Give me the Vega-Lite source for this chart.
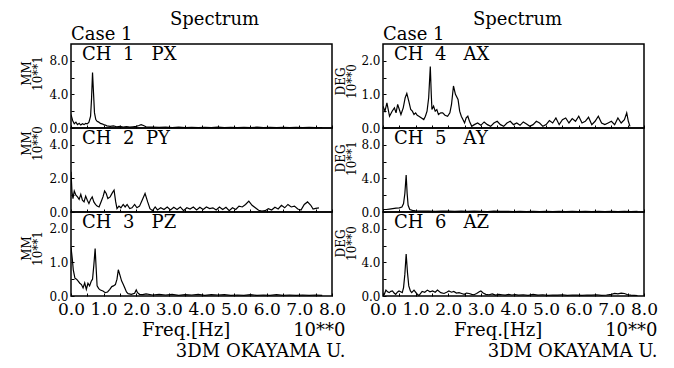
{
  "$schema": "https://vega.github.io/schema/vega-lite/v6.json",
  "background": "white",
  "padding": {"left": 20, "top": 11, "right": 5, "bottom": 2},
  "config": {
    "font": "DejaVu Serif",
    "view": {"stroke": "black", "strokeWidth": 1.5},
    "axis": {"grid": false, "domain": false, "tickColor": "black", "tickSize": -3, "labelColor": "black", "titleColor": "black", "labelFont": "DejaVu Serif", "titleFont": "DejaVu Serif", "titleFontWeight": "normal", "labelFlush": false, "labelOverlap": false, "labelBound": false},
    "title": {"font": "DejaVu Serif", "fontWeight": "normal", "color": "black"}
  },
  "datasets": {
    "ch1": [{"f":0,"v":1.6},{"f":0.05,"v":0.9},{"f":0.1,"v":0.5},{"f":0.15,"v":0.7},{"f":0.2,"v":0.4},{"f":0.25,"v":0.55},{"f":0.3,"v":0.35},{"f":0.35,"v":0.5},{"f":0.4,"v":0.4},{"f":0.45,"v":0.55},{"f":0.5,"v":0.5},{"f":0.55,"v":0.7},{"f":0.6,"v":1.4},{"f":0.63,"v":3.5},{"f":0.66,"v":6.6},{"f":0.69,"v":4.2},{"f":0.72,"v":1.8},{"f":0.76,"v":1.0},{"f":0.8,"v":0.8},{"f":0.85,"v":0.7},{"f":0.9,"v":0.55},{"f":0.95,"v":0.5},{"f":1.0,"v":0.4},{"f":1.05,"v":0.35},{"f":1.1,"v":0.25},{"f":1.2,"v":0.2},{"f":1.3,"v":0.25},{"f":1.4,"v":0.15},{"f":1.5,"v":0.2},{"f":1.6,"v":0.12},{"f":1.7,"v":0.18},{"f":1.8,"v":0.1},{"f":1.9,"v":0.15},{"f":2.0,"v":0.2},{"f":2.08,"v":0.3},{"f":2.15,"v":0.4},{"f":2.22,"v":0.3},{"f":2.3,"v":0.15},{"f":2.4,"v":0.1},{"f":2.5,"v":0.12},{"f":2.7,"v":0.08},{"f":2.9,"v":0.12},{"f":3.1,"v":0.06},{"f":3.3,"v":0.1},{"f":3.5,"v":0.05},{"f":3.7,"v":0.09},{"f":3.9,"v":0.05},{"f":4.1,"v":0.08},{"f":4.3,"v":0.05},{"f":4.5,"v":0.1},{"f":4.7,"v":0.05},{"f":4.9,"v":0.08},{"f":5.1,"v":0.05},{"f":5.3,"v":0.07},{"f":5.5,"v":0.04},{"f":5.7,"v":0.1},{"f":5.9,"v":0.05},{"f":6.1,"v":0.07},{"f":6.3,"v":0.05},{"f":6.5,"v":0.08},{"f":6.7,"v":0.05},{"f":6.9,"v":0.07},{"f":7.1,"v":0.04},{"f":7.3,"v":0.08},{"f":7.5,"v":0.05},{"f":7.7,"v":0.06}],
    "ch2": [{"f":0,"v":2.4},{"f":0.03,"v":1.2},{"f":0.06,"v":0.8},{"f":0.1,"v":1.25},{"f":0.15,"v":1.0},{"f":0.2,"v":0.9},{"f":0.25,"v":0.75},{"f":0.3,"v":1.05},{"f":0.35,"v":0.7},{"f":0.4,"v":0.6},{"f":0.45,"v":0.95},{"f":0.5,"v":0.7},{"f":0.55,"v":0.5},{"f":0.6,"v":0.75},{"f":0.65,"v":0.9},{"f":0.7,"v":0.6},{"f":0.75,"v":0.45},{"f":0.8,"v":0.35},{"f":0.86,"v":0.3},{"f":0.92,"v":0.6},{"f":0.98,"v":0.9},{"f":1.03,"v":1.25},{"f":1.08,"v":1.1},{"f":1.13,"v":0.8},{"f":1.2,"v":0.9},{"f":1.27,"v":1.15},{"f":1.32,"v":1.3},{"f":1.37,"v":0.6},{"f":1.41,"v":0.2},{"f":1.47,"v":0.35},{"f":1.53,"v":0.25},{"f":1.6,"v":0.45},{"f":1.66,"v":0.3},{"f":1.72,"v":0.45},{"f":1.8,"v":0.2},{"f":1.87,"v":0.25},{"f":1.95,"v":0.45},{"f":2.02,"v":0.25},{"f":2.1,"v":0.35},{"f":2.18,"v":0.7},{"f":2.27,"v":1.1},{"f":2.35,"v":0.6},{"f":2.42,"v":0.2},{"f":2.5,"v":0.08},{"f":2.58,"v":0.3},{"f":2.65,"v":0.12},{"f":2.75,"v":0.25},{"f":2.85,"v":0.15},{"f":2.95,"v":0.3},{"f":3.05,"v":0.12},{"f":3.15,"v":0.28},{"f":3.25,"v":0.15},{"f":3.35,"v":0.3},{"f":3.45,"v":0.08},{"f":3.55,"v":0.25},{"f":3.65,"v":0.18},{"f":3.75,"v":0.3},{"f":3.85,"v":0.12},{"f":3.95,"v":0.28},{"f":4.05,"v":0.15},{"f":4.15,"v":0.3},{"f":4.25,"v":0.2},{"f":4.35,"v":0.25},{"f":4.45,"v":0.12},{"f":4.55,"v":0.3},{"f":4.65,"v":0.15},{"f":4.75,"v":0.28},{"f":4.85,"v":0.08},{"f":4.95,"v":0.25},{"f":5.05,"v":0.15},{"f":5.15,"v":0.35},{"f":5.25,"v":0.3},{"f":5.35,"v":0.45},{"f":5.45,"v":0.65},{"f":5.55,"v":0.4},{"f":5.65,"v":0.25},{"f":5.75,"v":0.1},{"f":5.85,"v":0.05},{"f":5.95,"v":0.08},{"f":6.05,"v":0.2},{"f":6.15,"v":0.12},{"f":6.25,"v":0.28},{"f":6.35,"v":0.18},{"f":6.45,"v":0.4},{"f":6.55,"v":0.25},{"f":6.65,"v":0.45},{"f":6.75,"v":0.3},{"f":6.85,"v":0.35},{"f":6.95,"v":0.18},{"f":7.05,"v":0.12},{"f":7.15,"v":0.45},{"f":7.25,"v":0.6},{"f":7.35,"v":0.4},{"f":7.42,"v":0.18},{"f":7.5,"v":0.22},{"f":7.6,"v":0.25}],
    "ch3": [{"f":0,"v":1.45},{"f":0.04,"v":1.1},{"f":0.07,"v":0.78},{"f":0.12,"v":0.53},{"f":0.17,"v":0.5},{"f":0.22,"v":0.44},{"f":0.27,"v":0.38},{"f":0.32,"v":0.34},{"f":0.37,"v":0.24},{"f":0.42,"v":0.39},{"f":0.47,"v":0.2},{"f":0.52,"v":0.38},{"f":0.57,"v":0.3},{"f":0.62,"v":0.44},{"f":0.66,"v":0.5},{"f":0.7,"v":0.92},{"f":0.74,"v":1.41},{"f":0.77,"v":0.85},{"f":0.8,"v":0.3},{"f":0.85,"v":0.22},{"f":0.9,"v":0.18},{"f":0.98,"v":0.15},{"f":1.05,"v":0.1},{"f":1.12,"v":0.12},{"f":1.19,"v":0.2},{"f":1.25,"v":0.28},{"f":1.3,"v":0.3},{"f":1.36,"v":0.34},{"f":1.41,"v":0.5},{"f":1.45,"v":0.78},{"f":1.5,"v":0.62},{"f":1.55,"v":0.45},{"f":1.6,"v":0.35},{"f":1.65,"v":0.24},{"f":1.7,"v":0.12},{"f":1.75,"v":0.07},{"f":1.85,"v":0.05},{"f":1.95,"v":0.08},{"f":2.0,"v":0.18},{"f":2.04,"v":0.1},{"f":2.1,"v":0.05},{"f":2.2,"v":0.04},{"f":2.3,"v":0.06},{"f":2.5,"v":0.03},{"f":2.7,"v":0.05},{"f":2.9,"v":0.03},{"f":3.1,"v":0.05},{"f":3.3,"v":0.02},{"f":3.5,"v":0.04},{"f":3.7,"v":0.03},{"f":3.9,"v":0.05},{"f":4.1,"v":0.02},{"f":4.3,"v":0.04},{"f":4.5,"v":0.03},{"f":4.7,"v":0.04},{"f":4.9,"v":0.02},{"f":5.1,"v":0.03},{"f":5.3,"v":0.02},{"f":5.5,"v":0.04},{"f":5.7,"v":0.02},{"f":5.9,"v":0.03},{"f":6.1,"v":0.02},{"f":6.3,"v":0.04},{"f":6.5,"v":0.02},{"f":6.7,"v":0.03},{"f":6.9,"v":0.02},{"f":7.1,"v":0.03},{"f":7.3,"v":0.02},{"f":7.5,"v":0.03},{"f":7.7,"v":0.02}],
    "ch4": [{"f":0,"v":0.65},{"f":0.06,"v":0.5},{"f":0.12,"v":0.75},{"f":0.2,"v":0.35},{"f":0.28,"v":0.5},{"f":0.35,"v":0.6},{"f":0.4,"v":0.45},{"f":0.45,"v":0.7},{"f":0.5,"v":0.55},{"f":0.55,"v":0.4},{"f":0.62,"v":0.6},{"f":0.68,"v":0.9},{"f":0.73,"v":1.03},{"f":0.79,"v":0.8},{"f":0.85,"v":0.55},{"f":0.9,"v":0.5},{"f":0.95,"v":0.4},{"f":1.0,"v":0.45},{"f":1.05,"v":0.38},{"f":1.1,"v":0.35},{"f":1.18,"v":0.3},{"f":1.25,"v":0.25},{"f":1.3,"v":0.35},{"f":1.35,"v":0.5},{"f":1.4,"v":0.9},{"f":1.45,"v":1.83},{"f":1.48,"v":1.0},{"f":1.5,"v":0.55},{"f":1.55,"v":0.65},{"f":1.6,"v":0.5},{"f":1.65,"v":0.55},{"f":1.7,"v":0.4},{"f":1.77,"v":0.45},{"f":1.83,"v":0.45},{"f":1.9,"v":0.38},{"f":1.98,"v":0.35},{"f":2.05,"v":0.45},{"f":2.1,"v":0.7},{"f":2.16,"v":1.25},{"f":2.22,"v":1.0},{"f":2.3,"v":0.85},{"f":2.35,"v":0.5},{"f":2.4,"v":0.35},{"f":2.45,"v":0.25},{"f":2.5,"v":0.15},{"f":2.55,"v":0.3},{"f":2.6,"v":0.35},{"f":2.65,"v":0.2},{"f":2.72,"v":0.05},{"f":2.8,"v":0.1},{"f":2.9,"v":0.15},{"f":3.0,"v":0.08},{"f":3.1,"v":0.18},{"f":3.2,"v":0.1},{"f":3.3,"v":0.05},{"f":3.4,"v":0.15},{"f":3.5,"v":0.2},{"f":3.6,"v":0.1},{"f":3.7,"v":0.05},{"f":3.8,"v":0.15},{"f":3.9,"v":0.2},{"f":4.0,"v":0.1},{"f":4.1,"v":0.15},{"f":4.2,"v":0.08},{"f":4.3,"v":0.18},{"f":4.4,"v":0.12},{"f":4.5,"v":0.05},{"f":4.6,"v":0.1},{"f":4.7,"v":0.2},{"f":4.8,"v":0.15},{"f":4.9,"v":0.05},{"f":5.0,"v":0.1},{"f":5.1,"v":0.22},{"f":5.2,"v":0.15},{"f":5.3,"v":0.3},{"f":5.4,"v":0.1},{"f":5.5,"v":0.25},{"f":5.6,"v":0.3},{"f":5.7,"v":0.15},{"f":5.8,"v":0.28},{"f":5.9,"v":0.2},{"f":6.0,"v":0.35},{"f":6.1,"v":0.15},{"f":6.2,"v":0.2},{"f":6.3,"v":0.32},{"f":6.4,"v":0.1},{"f":6.5,"v":0.2},{"f":6.6,"v":0.35},{"f":6.7,"v":0.15},{"f":6.8,"v":0.1},{"f":6.9,"v":0.15},{"f":7.0,"v":0.2},{"f":7.1,"v":0.1},{"f":7.2,"v":0.3},{"f":7.3,"v":0.15},{"f":7.4,"v":0.25},{"f":7.47,"v":0.45},{"f":7.52,"v":0.2},{"f":7.57,"v":0.05}],
    "ch5": [{"f":0,"v":0.3},{"f":0.1,"v":0.3},{"f":0.2,"v":0.35},{"f":0.3,"v":0.4},{"f":0.4,"v":0.45},{"f":0.5,"v":0.5},{"f":0.58,"v":0.6},{"f":0.63,"v":1.0},{"f":0.67,"v":2.2},{"f":0.71,"v":4.4},{"f":0.74,"v":2.2},{"f":0.77,"v":0.8},{"f":0.82,"v":0.3},{"f":0.9,"v":0.2},{"f":1.0,"v":0.15},{"f":1.2,"v":0.1},{"f":1.4,"v":0.12},{"f":1.6,"v":0.08},{"f":1.8,"v":0.1},{"f":2.0,"v":0.12},{"f":2.2,"v":0.08},{"f":2.4,"v":0.1},{"f":2.6,"v":0.07},{"f":2.8,"v":0.1},{"f":3.0,"v":0.08},{"f":3.2,"v":0.06},{"f":3.4,"v":0.1},{"f":3.6,"v":0.07},{"f":3.8,"v":0.09},{"f":4.0,"v":0.06},{"f":4.2,"v":0.08},{"f":4.4,"v":0.06},{"f":4.6,"v":0.09},{"f":4.8,"v":0.06},{"f":5.0,"v":0.08},{"f":5.2,"v":0.06},{"f":5.4,"v":0.09},{"f":5.6,"v":0.06},{"f":5.8,"v":0.08},{"f":6.0,"v":0.06},{"f":6.2,"v":0.09},{"f":6.4,"v":0.06},{"f":6.6,"v":0.08},{"f":6.8,"v":0.06},{"f":7.0,"v":0.08},{"f":7.2,"v":0.06},{"f":7.4,"v":0.08},{"f":7.6,"v":0.06},{"f":7.8,"v":0.07}],
    "ch6": [{"f":0,"v":0.2},{"f":0.04,"v":0.2},{"f":0.09,"v":0.7},{"f":0.14,"v":0.5},{"f":0.19,"v":0.4},{"f":0.24,"v":0.55},{"f":0.29,"v":0.6},{"f":0.34,"v":0.35},{"f":0.39,"v":0.2},{"f":0.44,"v":0.45},{"f":0.49,"v":0.6},{"f":0.54,"v":0.5},{"f":0.59,"v":0.4},{"f":0.63,"v":1.0},{"f":0.67,"v":2.6},{"f":0.71,"v":5.0},{"f":0.75,"v":2.8},{"f":0.79,"v":1.2},{"f":0.84,"v":0.6},{"f":0.88,"v":0.4},{"f":0.95,"v":0.7},{"f":1.03,"v":0.3},{"f":1.1,"v":0.05},{"f":1.2,"v":0.55},{"f":1.28,"v":0.45},{"f":1.36,"v":0.7},{"f":1.44,"v":0.5},{"f":1.52,"v":0.6},{"f":1.6,"v":0.45},{"f":1.67,"v":0.7},{"f":1.77,"v":0.4},{"f":1.87,"v":0.3},{"f":1.95,"v":0.45},{"f":2.02,"v":0.6},{"f":2.1,"v":0.45},{"f":2.17,"v":0.55},{"f":2.25,"v":0.35},{"f":2.33,"v":0.4},{"f":2.41,"v":0.3},{"f":2.49,"v":0.2},{"f":2.56,"v":0.35},{"f":2.64,"v":0.3},{"f":2.72,"v":0.2},{"f":2.79,"v":0.15},{"f":2.87,"v":0.3},{"f":2.95,"v":0.5},{"f":3.0,"v":0.6},{"f":3.07,"v":0.35},{"f":3.15,"v":0.2},{"f":3.25,"v":0.15},{"f":3.35,"v":0.25},{"f":3.45,"v":0.1},{"f":3.55,"v":0.2},{"f":3.65,"v":0.15},{"f":3.75,"v":0.1},{"f":3.85,"v":0.2},{"f":3.95,"v":0.12},{"f":4.05,"v":0.18},{"f":4.15,"v":0.1},{"f":4.3,"v":0.15},{"f":4.45,"v":0.08},{"f":4.6,"v":0.2},{"f":4.75,"v":0.1},{"f":4.9,"v":0.15},{"f":5.05,"v":0.08},{"f":5.2,"v":0.12},{"f":5.35,"v":0.1},{"f":5.5,"v":0.15},{"f":5.65,"v":0.08},{"f":5.8,"v":0.12},{"f":5.95,"v":0.1},{"f":6.1,"v":0.08},{"f":6.25,"v":0.12},{"f":6.4,"v":0.1},{"f":6.55,"v":0.15},{"f":6.7,"v":0.08},{"f":6.85,"v":0.12},{"f":7.0,"v":0.2},{"f":7.1,"v":0.3},{"f":7.2,"v":0.25},{"f":7.3,"v":0.35},{"f":7.4,"v":0.3},{"f":7.5,"v":0.15},{"f":7.6,"v":0.1},{"f":7.7,"v":0.08},{"f":7.8,"v":0.05}]
  },
  "spacing": -13,
  "hconcat": [
    {
      "title": {"text": "Spectrum", "anchor": "start", "frame": "group", "fontSize": 18, "dx": 99, "offset": -4},
      "spacing": 0,
      "bounds": "flush",
      "vconcat": [
        {
          "width": 261, "height": 84,
          "title": {"text": "Case 1", "anchor": "start", "frame": "group", "fontSize": 18, "baseline": "alphabetic", "offset": -14},
          "layer": [
            {"data": {"name": "ch1"}, "mark": {"type": "line", "color": "black", "strokeWidth": 1.2, "clip": true},
             "encoding": {
               "x": {"field": "f", "type": "quantitative", "scale": {"domain": [0, 8], "nice": false}, "axis": {"values": [0,0.5,1,1.5,2,2.5,3,3.5,4,4.5,5,5.5,6,6.5,7,7.5,8], "tickCount": 40, "labels": false, "title": null}},
               "y": {"field": "v", "type": "quantitative", "scale": {"domain": [0, 10], "nice": false}, "axis": {"values": [0,2,4,6,8], "tickCount": 40, "labelExpr": "datum.value % 4 === 0 ? format(datum.value, '.1f') : ''", "labelFontSize": 12, "labelPadding": 6, "labelOverlap": false, "title": ["MM", "10**1"], "titleFontSize": 12, "titleY": 29, "titleAlign": "center", "titlePadding": 4, "titleLineHeight": 11}}
             }},
            {"data": {"values": [{}]}, "mark": {"type": "text", "align": "left", "baseline": "top", "fontSize": 18, "dy": 2, "color": "black"},
             "encoding": {"x": {"datum": 0.34}, "y": {"datum": 10}, "text": {"value": "CH\u00a0\u00a01\u00a0\u00a0\u00a0PX"}}}
          ]
        },
        {
          "width": 261, "height": 84,
          "layer": [
            {"data": {"name": "ch2"}, "mark": {"type": "line", "color": "black", "strokeWidth": 1.2, "clip": true},
             "encoding": {
               "x": {"field": "f", "type": "quantitative", "scale": {"domain": [0, 8], "nice": false}, "axis": {"values": [0,0.5,1,1.5,2,2.5,3,3.5,4,4.5,5,5.5,6,6.5,7,7.5,8], "tickCount": 40, "labels": false, "title": null}},
               "y": {"field": "v", "type": "quantitative", "scale": {"domain": [0, 5], "nice": false}, "axis": {"values": [0,1,2,3,4], "tickCount": 40, "labelExpr": "datum.value % 2 === 0 ? format(datum.value, '.1f') : ''", "labelFontSize": 12, "labelPadding": 6, "labelOverlap": false, "title": ["MM", "10**0"], "titleFontSize": 12, "titleY": 15, "titleAlign": "center", "titlePadding": 4, "titleLineHeight": 11}}
             }},
            {"data": {"values": [{}]}, "mark": {"type": "text", "align": "left", "baseline": "top", "fontSize": 18, "dy": 2, "color": "black"},
             "encoding": {"x": {"datum": 0.34}, "y": {"datum": 5}, "text": {"value": "CH\u00a0\u00a02\u00a0\u00a0PY"}}}
          ]
        },
        {
          "width": 261, "height": 84,
          "layer": [
            {"data": {"name": "ch3"}, "mark": {"type": "line", "color": "black", "strokeWidth": 1.2, "clip": true},
             "encoding": {
               "x": {"field": "f", "type": "quantitative", "scale": {"domain": [0, 8], "nice": false}, "axis": {"values": [0,0.5,1,1.5,2,2.5,3,3.5,4,4.5,5,5.5,6,6.5,7,7.5,8], "tickCount": 40, "labelExpr": "datum.value % 1 === 0 ? format(datum.value, '.1f') : ''", "labelFontSize": 17, "labelPadding": 8, "labelOverlap": false, "title": ["Freq.[Hz]\u00a0\u00a0\u00a0\u00a0\u00a0\u00a0\u00a0\u00a0\u00a0\u00a0\u00a010**0", "3DM OKAYAMA U."], "titleFontSize": 18, "titleAlign": "right", "titleAnchor": "end", "titleX": 274, "titleY": 25, "titleBaseline": "top", "titleLineHeight": 21}},
               "y": {"field": "v", "type": "quantitative", "scale": {"domain": [0, 2.5], "nice": false}, "axis": {"values": [0,0.5,1,1.5,2], "tickCount": 40, "labelExpr": "datum.value % 1 === 0 ? format(datum.value, '.1f') : ''", "labelFontSize": 12, "labelPadding": 6, "labelOverlap": false, "title": ["MM", "10**1"], "titleFontSize": 12, "titleY": 36, "titleAlign": "center", "titlePadding": 4, "titleLineHeight": 11}}
             }},
            {"data": {"values": [{}]}, "mark": {"type": "text", "align": "left", "baseline": "top", "fontSize": 18, "dy": 2, "color": "black"},
             "encoding": {"x": {"datum": 0.34}, "y": {"datum": 2.5}, "text": {"value": "CH\u00a0\u00a03\u00a0\u00a0\u00a0PZ"}}}
          ]
        }
      ]
    },
    {
      "title": {"text": "Spectrum", "anchor": "start", "frame": "group", "fontSize": 18, "dx": 90, "offset": -4},
      "spacing": 0,
      "bounds": "flush",
      "vconcat": [
        {
          "width": 261, "height": 84,
          "title": {"text": "Case 1", "anchor": "start", "frame": "group", "fontSize": 18, "baseline": "alphabetic", "offset": -14},
          "layer": [
            {"data": {"name": "ch4"}, "mark": {"type": "line", "color": "black", "strokeWidth": 1.2, "clip": true},
             "encoding": {
               "x": {"field": "f", "type": "quantitative", "scale": {"domain": [0, 8], "nice": false}, "axis": {"values": [0,0.5,1,1.5,2,2.5,3,3.5,4,4.5,5,5.5,6,6.5,7,7.5,8], "tickCount": 40, "labels": false, "title": null}},
               "y": {"field": "v", "type": "quantitative", "scale": {"domain": [0, 2.5], "nice": false}, "axis": {"values": [0,0.5,1,1.5,2], "tickCount": 40, "labelExpr": "datum.value % 1 === 0 ? format(datum.value, '.1f') : ''", "labelFontSize": 12, "labelPadding": 6, "labelOverlap": false, "title": ["DEG", "10**0"], "titleFontSize": 12, "titleY": 37, "titleAlign": "center", "titlePadding": 2, "titleLineHeight": 11}}
             }},
            {"data": {"values": [{}]}, "mark": {"type": "text", "align": "left", "baseline": "top", "fontSize": 18, "dy": 2, "color": "black"},
             "encoding": {"x": {"datum": 0.34}, "y": {"datum": 2.5}, "text": {"value": "CH\u00a0\u00a04\u00a0\u00a0\u00a0AX"}}}
          ]
        },
        {
          "width": 261, "height": 84,
          "layer": [
            {"data": {"name": "ch5"}, "mark": {"type": "line", "color": "black", "strokeWidth": 1.2, "clip": true},
             "encoding": {
               "x": {"field": "f", "type": "quantitative", "scale": {"domain": [0, 8], "nice": false}, "axis": {"values": [0,0.5,1,1.5,2,2.5,3,3.5,4,4.5,5,5.5,6,6.5,7,7.5,8], "tickCount": 40, "labels": false, "title": null}},
               "y": {"field": "v", "type": "quantitative", "scale": {"domain": [0, 10], "nice": false}, "axis": {"values": [0,2,4,6,8], "tickCount": 40, "labelExpr": "datum.value % 4 === 0 ? format(datum.value, '.1f') : ''", "labelFontSize": 12, "labelPadding": 6, "labelOverlap": false, "title": ["DEG", "10**1"], "titleFontSize": 12, "titleY": 30, "titleAlign": "center", "titlePadding": 2, "titleLineHeight": 11}}
             }},
            {"data": {"values": [{}]}, "mark": {"type": "text", "align": "left", "baseline": "top", "fontSize": 18, "dy": 2, "color": "black"},
             "encoding": {"x": {"datum": 0.34}, "y": {"datum": 10}, "text": {"value": "CH\u00a0\u00a05\u00a0\u00a0\u00a0AY"}}}
          ]
        },
        {
          "width": 261, "height": 84,
          "layer": [
            {"data": {"name": "ch6"}, "mark": {"type": "line", "color": "black", "strokeWidth": 1.2, "clip": true},
             "encoding": {
               "x": {"field": "f", "type": "quantitative", "scale": {"domain": [0, 8], "nice": false}, "axis": {"values": [0,0.5,1,1.5,2,2.5,3,3.5,4,4.5,5,5.5,6,6.5,7,7.5,8], "tickCount": 40, "labelExpr": "datum.value % 1 === 0 ? format(datum.value, '.1f') : ''", "labelFontSize": 17, "labelPadding": 8, "labelOverlap": false, "title": ["Freq.[Hz]\u00a0\u00a0\u00a0\u00a0\u00a0\u00a0\u00a0\u00a0\u00a0\u00a0\u00a010**0", "3DM OKAYAMA U."], "titleFontSize": 18, "titleAlign": "right", "titleAnchor": "end", "titleX": 274, "titleY": 25, "titleBaseline": "top", "titleLineHeight": 21}},
               "y": {"field": "v", "type": "quantitative", "scale": {"domain": [0, 10], "nice": false}, "axis": {"values": [0,2,4,6,8], "tickCount": 40, "labelExpr": "datum.value % 4 === 0 ? format(datum.value, '.1f') : ''", "labelFontSize": 12, "labelPadding": 6, "labelOverlap": false, "title": ["DEG", "10**0"], "titleFontSize": 12, "titleY": 31, "titleAlign": "center", "titlePadding": 2, "titleLineHeight": 11}}
             }},
            {"data": {"values": [{}]}, "mark": {"type": "text", "align": "left", "baseline": "top", "fontSize": 18, "dy": 2, "color": "black"},
             "encoding": {"x": {"datum": 0.34}, "y": {"datum": 10}, "text": {"value": "CH\u00a0\u00a06\u00a0\u00a0\u00a0AZ"}}}
          ]
        }
      ]
    }
  ]
}
